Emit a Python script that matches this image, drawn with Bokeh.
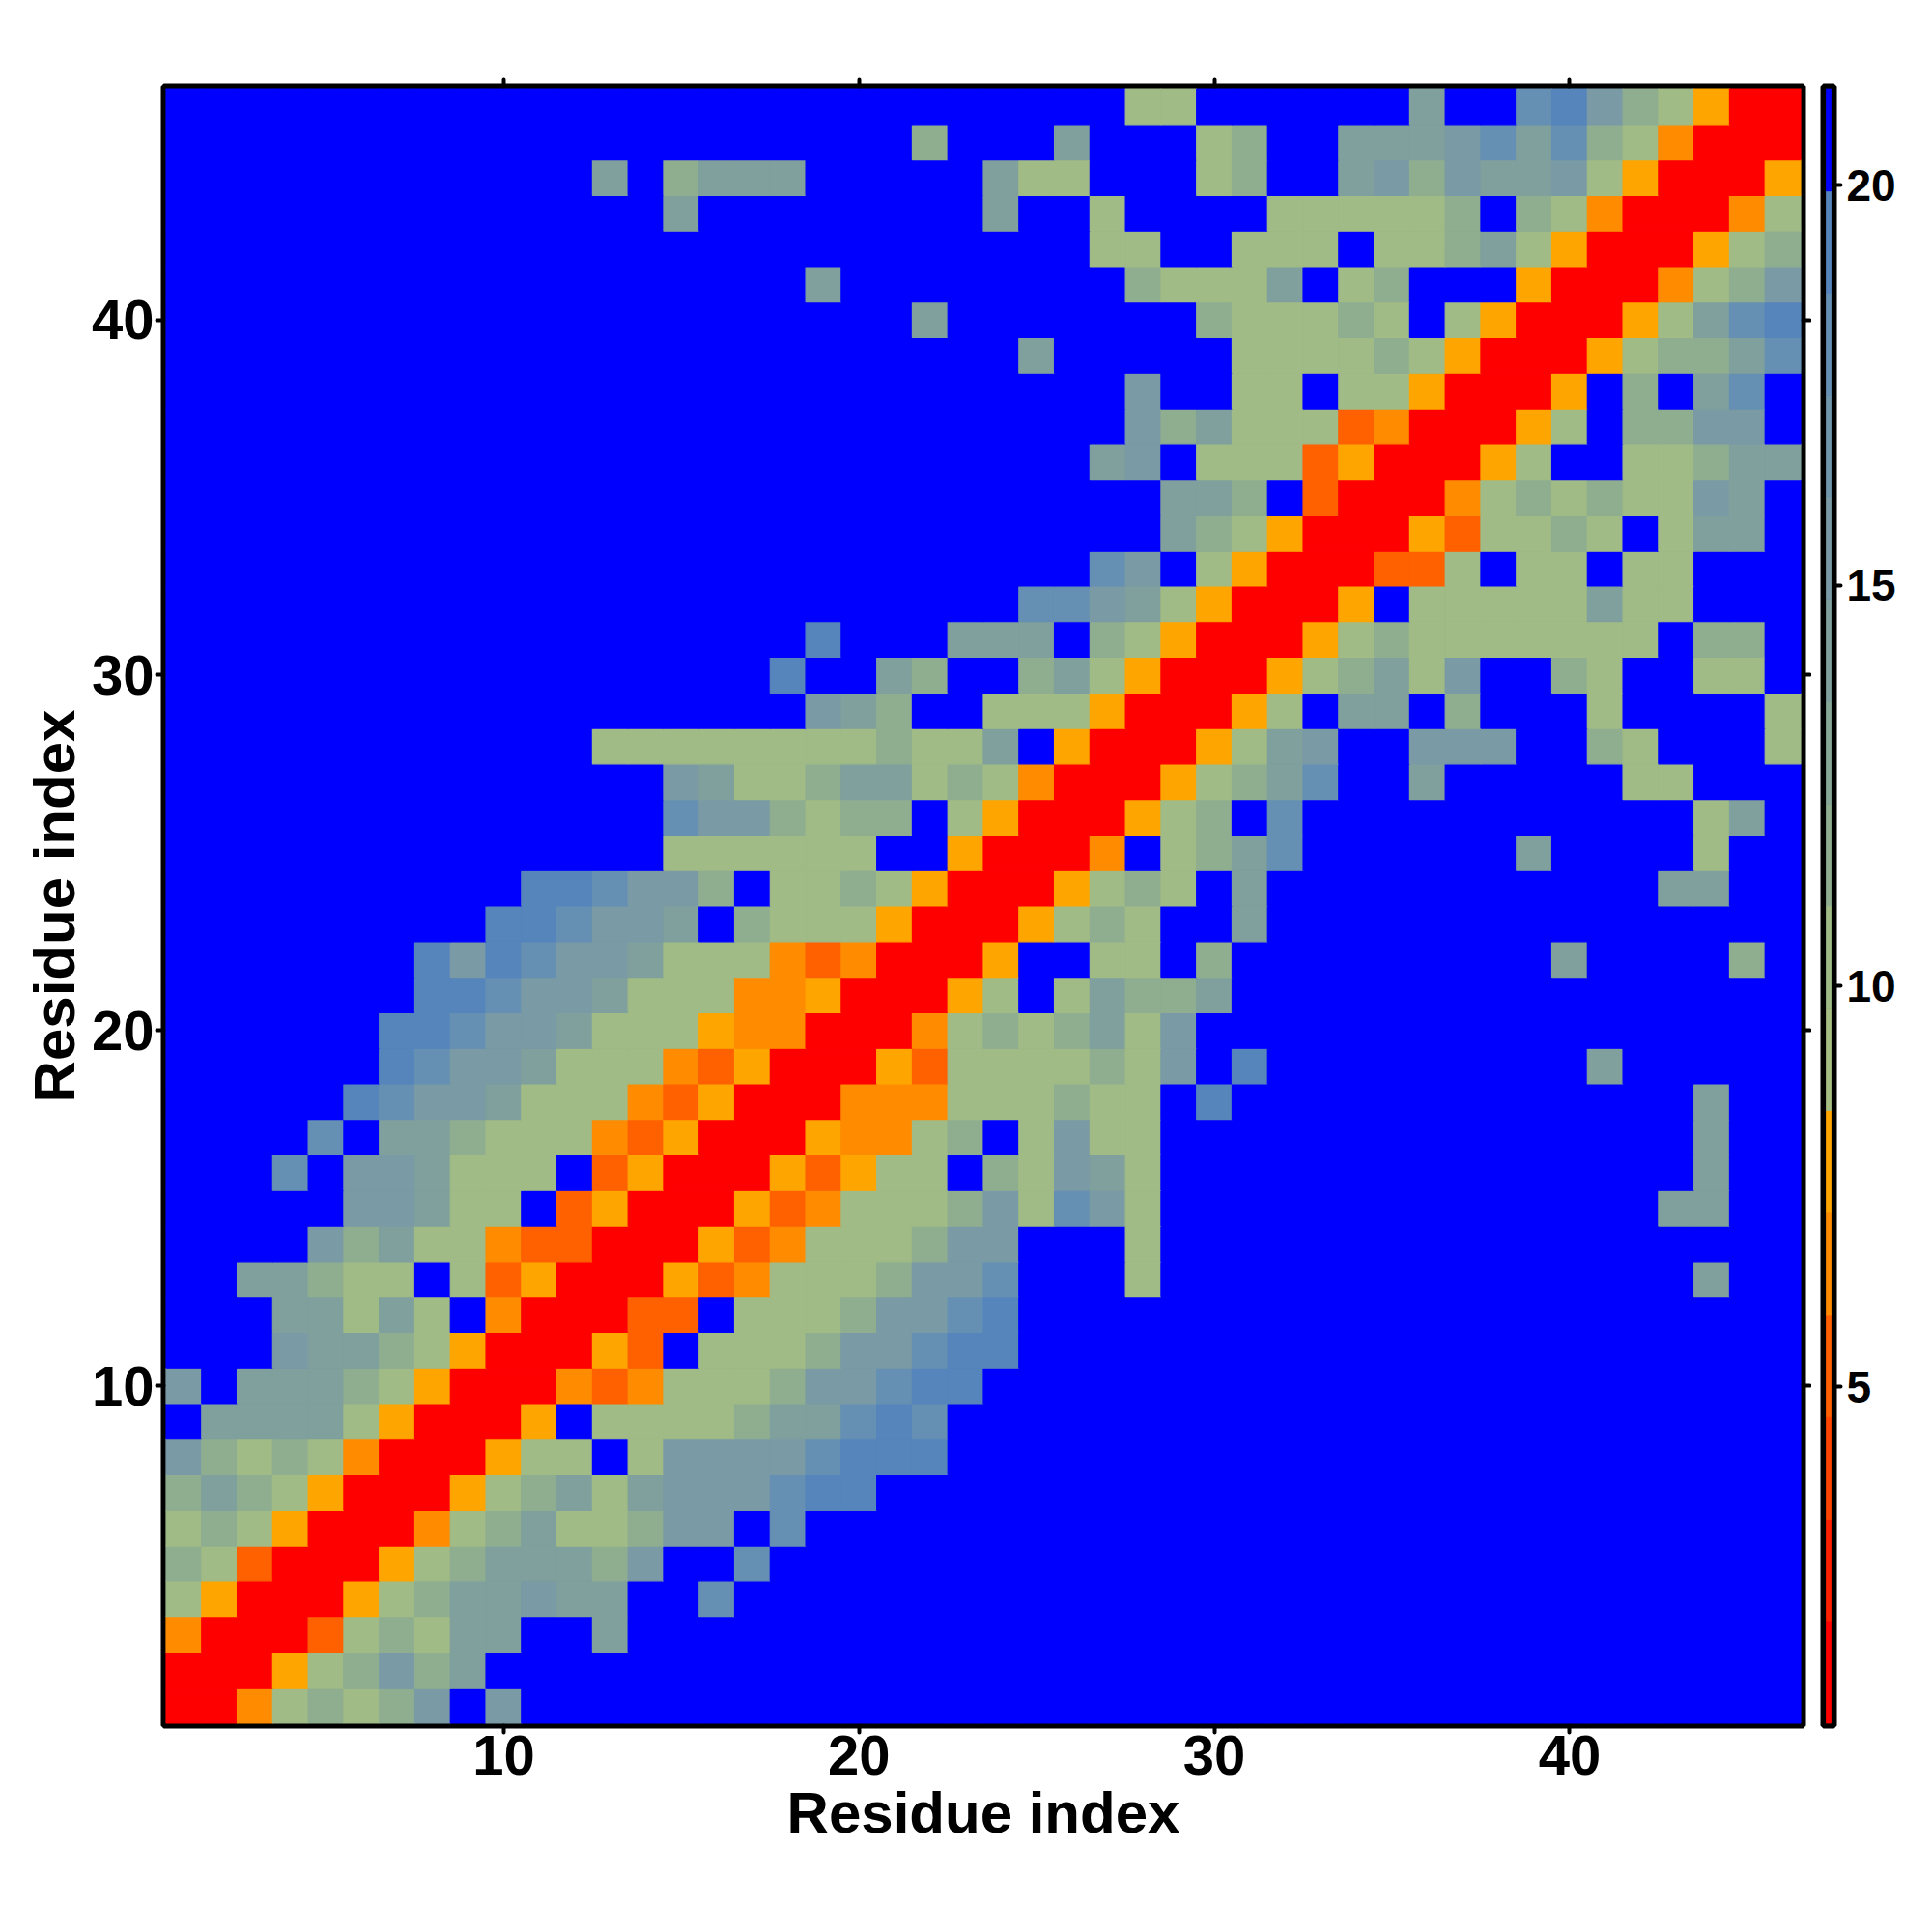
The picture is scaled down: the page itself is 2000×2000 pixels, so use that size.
from bokeh.embed import file_html
from bokeh.resources import INLINE
from bokeh.plotting import figure
from bokeh.layouts import row
from bokeh.models import ColumnDataSource, LinearColorMapper, Range1d, FixedTicker, LinearAxis
from bokeh.transform import transform

# colour scale of the bar: 16 equal levels
scale_low = 0.8
scale_high = 21.2
palette = ["#ff0000", "#ff2000", "#ff4500", "#ff6000", "#ff8c00", "#ffa500",
           "#a6be81", "#a0bb85", "#8fae90", "#87a797", "#7fa09c", "#7a9ba5",
           "#6f95aa", "#6590b3", "#5585bb", "#0000ff"]
bar_levels = [1, 3, 4, 5, 7, 8, 9, 10, 12, 13, 14, 15, 17, 18, 19, 21]
bar_ticks = [5, 10, 15, 20]
axis_ticks = [10, 20, 30, 40]
axis_title = "Residue index"

# value read for each cell code
R, O, M, Y, a, b, c, d, e, f, B = 1, 5, 7, 8, 10, 12, 14, 15, 18, 19, 21
code_values = {"R": R, "O": O, "M": M, "Y": Y, "a": a, "b": b, "c": c, "d": d, "e": e, "f": f, "B": B}

# one string per residue on the y axis, one code per residue on the x axis
row_46 = "BBBBBBBBBB" "BBBBBBBBBB" "BBBBBBBaaB" "BBBBBcBBef" "dbaYRR"
row_45 = "BBBBBBBBBB" "BBBBBBBBBB" "BbBBBcBBBa" "bBBcccdece" "baMRRR"
row_44 = "BBBBBBBBBB" "BBcBbcccBB" "BBBcaaBBBa" "bBBcdbdccd" "aYRRRY"
row_43 = "BBBBBBBBBB" "BBBBcBBBBB" "BBBcBBaBBB" "BaaaaabBba" "MRRRMa"
row_42 = "BBBBBBBBBB" "BBBBBBBBBB" "BBBBBBaaBB" "aaaBaabcaY" "RRRYab"
row_41 = "BBBBBBBBBB" "BBBBBBBBcB" "BBBBBBBbaa" "acBabBBBYR" "RRMabd"
row_40 = "BBBBBBBBBB" "BBBBBBBBBB" "BcBBBBBBBb" "aaabaBaYRR" "RYacef"
row_39 = "BBBBBBBBBB" "BBBBBBBBBB" "BBBBcBBBBB" "aaaabaYRRR" "Yabbce"
row_38 = "BBBBBBBBBB" "BBBBBBBBBB" "BBBBBBBdBB" "aaBaaYRRRY" "BbBceB"
row_37 = "BBBBBBBBBB" "BBBBBBBBBB" "BBBBBBBdbc" "aaaOMRRRYa" "BbbddB"
row_36 = "BBBBBBBBBB" "BBBBBBBBBB" "BBBBBBcdBa" "aaOYRRRYaB" "Baabcc"
row_35 = "BBBBBBBBBB" "BBBBBBBBBB" "BBBBBBBBcc" "bBORRRMaba" "baadcB"
row_34 = "BBBBBBBBBB" "BBBBBBBBBB" "BBBBBBBBcb" "aYRRRYOaab" "aBaccB"
row_33 = "BBBBBBBBBB" "BBBBBBBBBB" "BBBBBBedBa" "YRRROOaBaa" "BaaBBB"
row_32 = "BBBBBBBBBB" "BBBBBBBBBB" "BBBBeedcaY" "RRRYBaaaaa" "caaBBB"
row_31 = "BBBBBBBBBB" "BBBBBBBBfB" "BBcccBbaYR" "RRYabaaaaa" "aaBbbB"
row_30 = "BBBBBBBBBB" "BBBBBBBfBB" "cbBBbcaYRR" "RYabcadBBb" "aBBaaB"
row_29 = "BBBBBBBBBB" "BBBBBBBBdc" "bBBaaaYRRR" "YaBccBbBBB" "aBBBBa"
row_28 = "BBBBBBBBBB" "BBaaaaaaaa" "baacBYRRRY" "acdBBdddBB" "baBBBa"
row_27 = "BBBBBBBBBB" "BBBBdcaabc" "cabaMRRRYa" "bceBBcBBBB" "BaaBBB"
row_26 = "BBBBBBBBBB" "BBBBeddbab" "bBaYRRRYab" "BeBBBBBBBB" "BBBacB"
row_25 = "BBBBBBBBBB" "BBBBaaaaaa" "BBYRRRMBab" "ceBBBBBBcB" "BBBaBB"
row_24 = "BBBBBBBBBB" "ffeddbBaab" "aYRRRYabaB" "cBBBBBBBBB" "BBccBB"
row_23 = "BBBBBBBBBf" "feddcBbaaa" "YRRRYabaBB" "cBBBBBBBBB" "BBBBBB"
row_22 = "BBBBBBBfdf" "eddcaaaMOM" "RRRYBBaaBb" "BBBBBBBBBc" "BBBBbB"
row_21 = "BBBBBBBffe" "ddcaaaMMYR" "RRYaBacbbc" "BBBBBBBBBB" "BBBBBB"
row_20 = "BBBBBBffed" "dcaaaYMMRR" "RMababcadB" "BBBBBBBBBB" "BBBBBB"
row_19 = "BBBBBBfedd" "caaaMOYRRR" "YOaaaabadB" "fBBBBBBBBB" "cBBBBB"
row_18 = "BBBBBfeddc" "aaaMOYRRRM" "MMaaabaaBf" "BBBBBBBBBB" "BBBcBB"
row_17 = "BBBBeBccba" "aaMOYRRRYM" "MabBadaaBB" "BBBBBBBBBB" "BBBcBB"
row_16 = "BBBeBddcaa" "aBOYRRRYOY" "aaBbadcaBB" "BBBBBBBBBB" "BBBcBB"
row_15 = "BBBBBddcaa" "BOYRRRYOMa" "aabdaedaBB" "BBBBBBBBBB" "BBccBB"
row_14 = "BBBBdbcaaM" "OORRRYOMaa" "abddBBBaBB" "BBBBBBBBBB" "BBBBBB"
row_13 = "BBccbaaBaO" "YRRRYOMaaa" "bddeBBBaBB" "BBBBBBBBBB" "BBBcBB"
row_12 = "BBBccacaBM" "RRROOBaaab" "ddefBBBBBB" "BBBBBBBBBB" "BBBBBB"
row_11 = "BBBdccbaYR" "RRYOBaaabd" "deffBBBBBB" "BBBBBBBBBB" "BBBBBB"
row_10 = "dBcccbaYRR" "RMOMaaabdd" "effBBBBBBB" "BBBBBBBBBB" "BBBBBB"
row_09 = "BccccaYRRR" "YBaaaabcce" "feBBBBBBBB" "BBBBBBBBBB" "BBBBBB"
row_08 = "dbabaMRRRY" "aaBaddddef" "ffBBBBBBBB" "BBBBBBBBBB" "BBBBBB"
row_07 = "bcbaYRRRYa" "bcacdddeff" "BBBBBBBBBB" "BBBBBBBBBB" "BBBBBB"
row_06 = "abaYRRRMab" "caabddBeBB" "BBBBBBBBBB" "BBBBBBBBBB" "BBBBBB"
row_05 = "baORRRYabc" "ccbdBBeBBB" "BBBBBBBBBB" "BBBBBBBBBB" "BBBBBB"
row_04 = "aYRRRYabcc" "dccBBeBBBB" "BBBBBBBBBB" "BBBBBBBBBB" "BBBBBB"
row_03 = "MRRROabacc" "BBcBBBBBBB" "BBBBBBBBBB" "BBBBBBBBBB" "BBBBBB"
row_02 = "RRRYabdbcB" "BBBBBBBBBB" "BBBBBBBBBB" "BBBBBBBBBB" "BBBBBB"
row_01 = "RRMababdBd" "BBBBBBBBBB" "BBBBBBBBBB" "BBBBBBBBBB" "BBBBBB"

rows = [row_01, row_02, row_03, row_04, row_05, row_06, row_07, row_08, row_09, row_10,
        row_11, row_12, row_13, row_14, row_15, row_16, row_17, row_18, row_19, row_20,
        row_21, row_22, row_23, row_24, row_25, row_26, row_27, row_28, row_29, row_30,
        row_31, row_32, row_33, row_34, row_35, row_36, row_37, row_38, row_39, row_40,
        row_41, row_42, row_43, row_44, row_45, row_46]

FONT = "Liberation Sans"
xs, ys, vs = [], [], []
for j, r in enumerate(rows):
    assert len(r) == 46, (j + 1, len(r))
    for i, ch in enumerate(r):
        xs.append(i + 1)
        ys.append(j + 1)
        vs.append(code_values[ch])

mapper = LinearColorMapper(palette=palette, low=scale_low, high=scale_high)

pad = 2.5 / 36.8
p = figure(x_range=Range1d(0.5 - pad, 46.5 + pad), y_range=Range1d(0.5 - pad, 46.5 + pad),
           frame_width=1697, frame_height=1697,
           min_border_left=169, min_border_right=9, min_border_top=89, min_border_bottom=150,
           toolbar_location=None, output_backend="svg", background_fill_color="#0000ff")
p.rect(x="x", y="y", width=1, height=1, source=ColumnDataSource(dict(x=xs, y=ys, v=vs)),
       fill_color=transform("v", mapper), line_color=transform("v", mapper), line_width=1.2)
p.grid.visible = False
p.outline_line_color = "black"
p.outline_line_width = 6
p.outline_line_alpha = 1


def style(ax, labels=True):
    ax.ticker = FixedTicker(ticks=axis_ticks)
    ax.axis_line_color = None
    ax.major_tick_in = 0
    ax.major_tick_out = 7
    ax.minor_tick_in = 0
    ax.minor_tick_out = 0
    ax.major_tick_line_width = 4
    ax.major_tick_line_color = "black"
    ax.major_tick_line_cap = "round"
    if labels:
        ax.major_label_text_font = FONT
        ax.major_label_text_font_style = "bold"
        ax.major_label_text_font_size = "58px"
        ax.major_label_text_color = "black"
        ax.axis_label = axis_title
        ax.axis_label_text_font = FONT
        ax.axis_label_text_font_style = "bold"
        ax.axis_label_text_font_size = "60px"
        ax.axis_label_text_color = "black"
    else:
        ax.major_label_overrides = {t: "" for t in axis_ticks}
        ax.major_label_text_font_size = "0px"
        ax.major_label_standoff = 0


style(p.xaxis[0])
style(p.yaxis[0])
p.xaxis[0].major_label_standoff = 3
p.xaxis[0].axis_label_standoff = 3
p.yaxis[0].major_label_standoff = 3
p.yaxis[0].axis_label_standoff = 2
top_axis = LinearAxis()
right_axis = LinearAxis()
style(top_axis, labels=False)
style(right_axis, labels=False)
p.add_layout(top_axis, "above")
p.add_layout(right_axis, "right")

# colour bar, drawn as its own narrow figure sharing the frame's height
edges = [scale_low + (scale_high - scale_low) * k / len(bar_levels) for k in range(len(bar_levels) + 1)]
bar_pad = 2.5 / (1692 / (scale_high - scale_low))
cb = figure(x_range=Range1d(-0.6, 1.6), y_range=Range1d(scale_low - bar_pad, scale_high + bar_pad),
            frame_width=11, frame_height=1697,
            min_border_left=12, min_border_right=70, min_border_top=89, min_border_bottom=150,
            y_axis_location="right", x_axis_location=None,
            toolbar_location=None, output_backend="svg", background_fill_color="#000000")
bar_source = ColumnDataSource(dict(left=[0] * len(bar_levels), right=[1] * len(bar_levels),
                                   bottom=edges[:-1], top=edges[1:], v=bar_levels))
cb.quad(left="left", right="right", bottom="bottom", top="top",
        fill_color=transform("v", mapper), line_color=transform("v", mapper), line_width=0.8,
        source=bar_source)
cb.grid.visible = False
cb.outline_line_color = "black"
cb.outline_line_width = 6
ay = cb.yaxis[0]
ay.ticker = FixedTicker(ticks=bar_ticks)
ay.axis_line_color = None
ay.major_tick_in = 0
ay.major_tick_out = 7
ay.minor_tick_in = 0
ay.minor_tick_out = 0
ay.major_tick_line_width = 4
ay.major_tick_line_cap = "round"
ay.major_tick_line_color = "black"
ay.major_label_text_font = FONT
ay.major_label_text_font_style = "bold"
ay.major_label_text_font_size = "46px"
ay.major_label_text_color = "black"
ay.major_label_standoff = 6

layout = row(p, cb, spacing=0)
open("out.html", "w").write(file_html(layout, INLINE))
